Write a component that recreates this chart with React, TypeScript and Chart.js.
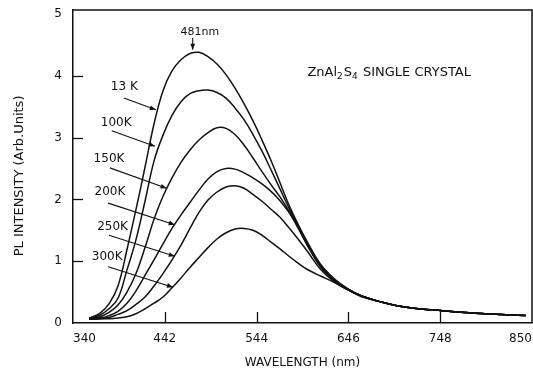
import React, { useEffect, useRef } from "react";
import { Chart, registerables } from "chart.js";

Chart.register(...registerables);

const FONT = "DejaVu Sans";
const INK = "#111";

// Wavelength grid (nm)
const wavelengths = [358, 370, 380, 390, 400, 410, 420, 430, 440, 450, 460, 470, 480, 490, 500, 510, 520, 530, 540, 550, 560, 570, 580, 590, 600, 615, 630, 645, 660, 680, 700, 725, 750, 780, 810, 843];

// PL intensity (arb. units) for each temperature
const pl13K = [0.08, 0.16, 0.31, 0.6, 1.19, 1.84, 2.52, 3.22, 3.76, 4.08, 4.26, 4.36, 4.38, 4.31, 4.19, 4.02, 3.8, 3.55, 3.27, 2.96, 2.63, 2.27, 1.91, 1.6, 1.32, 0.95, 0.72, 0.56, 0.44, 0.35, 0.28, 0.23, 0.2, 0.165, 0.14, 0.12];
const pl100K = [0.07, 0.13, 0.23, 0.4, 0.86, 1.35, 1.97, 2.62, 3.04, 3.36, 3.58, 3.71, 3.76, 3.77, 3.73, 3.64, 3.48, 3.29, 3.05, 2.78, 2.48, 2.17, 1.86, 1.58, 1.29, 0.94, 0.71, 0.55, 0.44, 0.35, 0.28, 0.23, 0.2, 0.165, 0.14, 0.12];
const pl150K = [0.07, 0.1, 0.17, 0.29, 0.5, 0.8, 1.22, 1.68, 2.05, 2.35, 2.6, 2.8, 2.96, 3.08, 3.16, 3.15, 3.05, 2.88, 2.67, 2.45, 2.24, 2.04, 1.81, 1.55, 1.27, 0.92, 0.7, 0.55, 0.44, 0.35, 0.28, 0.23, 0.2, 0.165, 0.14, 0.12];
const pl200K = [0.06, 0.08, 0.12, 0.19, 0.32, 0.52, 0.77, 1.02, 1.28, 1.53, 1.75, 1.95, 2.15, 2.33, 2.45, 2.5, 2.49, 2.43, 2.35, 2.25, 2.13, 1.98, 1.79, 1.54, 1.27, 0.91, 0.69, 0.55, 0.44, 0.35, 0.28, 0.23, 0.2, 0.165, 0.14, 0.12];
const pl250K = [0.06, 0.07, 0.09, 0.14, 0.2, 0.3, 0.42, 0.6, 0.8, 1.02, 1.26, 1.53, 1.79, 1.99, 2.12, 2.2, 2.22, 2.18, 2.08, 1.97, 1.84, 1.71, 1.54, 1.36, 1.17, 0.87, 0.67, 0.54, 0.44, 0.35, 0.28, 0.23, 0.2, 0.165, 0.14, 0.12];
const pl300K = [0.06, 0.07, 0.07, 0.08, 0.1, 0.15, 0.23, 0.32, 0.42, 0.57, 0.73, 0.9, 1.06, 1.22, 1.36, 1.46, 1.52, 1.53, 1.5, 1.42, 1.31, 1.2, 1.08, 0.97, 0.87, 0.76, 0.66, 0.54, 0.43, 0.35, 0.28, 0.23, 0.2, 0.165, 0.14, 0.12];

const temperatures = ["13 K", "100K", "150K", "200K", "250K", "300K"];
const seriesValues = [pl13K, pl100K, pl150K, pl200K, pl250K, pl300K];

// Axis ticks
const xTickValues = [340, 442, 544, 646, 748, 850];
const yTickValues = [0, 1, 2, 3, 4, 5];

// Annotation anchors in data units (wavelength, intensity)
const labelWl = [397, 388, 380, 381, 384, 378];
const labelPl = [3.82, 3.24, 2.65, 2.12, 1.55, 1.07];
const arrowFromWl = [396.5, 383, 381, 379, 380, 379];
const arrowFromPl = [3.64, 3.11, 2.51, 1.94, 1.42, 0.91];
const arrowToWl = [432, 431, 444, 453, 453, 451];
const arrowToPl = [3.45, 2.86, 2.18, 1.59, 1.08, 0.58];
const peakLabel = "481nm";
const peakLabelAt = [481, 4.71];
const peakArrow = [473, 4.61, 473, 4.42];
const titleAt = [600.5, 4.08];

function arrow(ctx: CanvasRenderingContext2D, x1: number, y1: number, x2: number, y2: number) {
  ctx.beginPath();
  ctx.moveTo(x1, y1);
  ctx.lineTo(x2, y2);
  ctx.stroke();
  const a = Math.atan2(y2 - y1, x2 - x1);
  const L = 6, W = 2.4;
  ctx.beginPath();
  ctx.moveTo(x2, y2);
  ctx.lineTo(x2 - L * Math.cos(a) + W * Math.sin(a), y2 - L * Math.sin(a) - W * Math.cos(a));
  ctx.lineTo(x2 - L * Math.cos(a) - W * Math.sin(a), y2 - L * Math.sin(a) + W * Math.cos(a));
  ctx.closePath();
  ctx.fill();
}

const annotations = {
  id: "annotations",
  afterDraw(chart: any) {
    const { ctx, chartArea } = chart;
    const x = chart.scales.x;
    const y = chart.scales.y;
    ctx.save();
    ctx.strokeStyle = INK;
    ctx.fillStyle = INK;
    ctx.lineWidth = 1.5;
    // top and right frame
    ctx.beginPath();
    ctx.moveTo(chartArea.left, chartArea.top);
    ctx.lineTo(chartArea.right, chartArea.top);
    ctx.lineTo(chartArea.right, chartArea.bottom);
    ctx.stroke();
    // inward tick marks
    ctx.lineWidth = 1.3;
    yTickValues.slice(1, -1).forEach((v) => {
      const py = Math.round(y.getPixelForValue(v)) + 0.5;
      ctx.beginPath();
      ctx.moveTo(chartArea.left, py);
      ctx.lineTo(chartArea.left + 10, py);
      ctx.stroke();
    });
    xTickValues.slice(1, -1).forEach((w) => {
      const px = Math.round(x.getPixelForValue(w)) + 0.5;
      ctx.beginPath();
      ctx.moveTo(px, chartArea.bottom);
      ctx.lineTo(px, chartArea.bottom - 11);
      ctx.stroke();
    });

    // y axis title
    ctx.save();
    ctx.translate(chartArea.left - 53, y.getPixelForValue(2.38));
    ctx.rotate(-Math.PI / 2);
    ctx.font = `13px "${FONT}"`;
    ctx.textAlign = "center";
    ctx.textBaseline = "middle";
    ctx.fillText("PL INTENSITY (Arb.Units)", 0, 0);
    ctx.restore();

    // temperature labels and arrows
    ctx.lineWidth = 1.1;
    ctx.font = `12px "${FONT}"`;
    ctx.textAlign = "center";
    ctx.textBaseline = "middle";
    temperatures.forEach((t, i) => {
      ctx.fillText(t, x.getPixelForValue(labelWl[i]), y.getPixelForValue(labelPl[i]));
      arrow(ctx,
        x.getPixelForValue(arrowFromWl[i]), y.getPixelForValue(arrowFromPl[i]),
        x.getPixelForValue(arrowToWl[i]), y.getPixelForValue(arrowToPl[i]));
    });

    // peak label
    ctx.font = `11px "${FONT}"`;
    ctx.fillText(peakLabel, x.getPixelForValue(peakLabelAt[0]), y.getPixelForValue(peakLabelAt[1]));
    arrow(ctx,
      x.getPixelForValue(peakArrow[0]), y.getPixelForValue(peakArrow[1]),
      x.getPixelForValue(peakArrow[2]), y.getPixelForValue(peakArrow[3]));

    // sample title with subscripts
    let tx = x.getPixelForValue(titleAt[0]);
    const base = y.getPixelForValue(titleAt[1]) + 0.365 * 13;
    ctx.textAlign = "left";
    ctx.textBaseline = "alphabetic";
    const parts: [string, boolean][] = [["ZnAl", false], ["2", true], ["S", false], ["4", true], [" SINGLE CRYSTAL", false]];
    parts.forEach(([s, sub]) => {
      ctx.font = sub ? `9px "${FONT}"` : `13px "${FONT}"`;
      ctx.fillText(s, tx, sub ? base + 3.5 : base);
      tx += ctx.measureText(s).width + (sub ? 1 : 0);
    });
    ctx.restore();
  },
};

export default function App() {
  const ref = useRef<HTMLCanvasElement>(null);
  useEffect(() => {
    const canvas = ref.current;
    if (!canvas) return;
    const tickFont = { size: 12, family: FONT };
    const chart = new Chart(canvas, {
      type: "line",
      data: {
        datasets: seriesValues.map((vals, i) => ({
          label: temperatures[i],
          data: wavelengths.map((w, j) => ({ x: w, y: vals[j] })),
          borderColor: INK,
          borderWidth: 1.5,
          pointRadius: 0,
          tension: 0.4,
          fill: false,
        })),
      },
      options: {
        responsive: false,
        animation: false,
        devicePixelRatio: 1,
        layout: { padding: { top: 10, right: 1, left: 0, bottom: 0 } },
        plugins: { legend: { display: false }, tooltip: { enabled: false } },
        scales: {
          x: {
            type: "linear",
            min: xTickValues[0],
            max: xTickValues[xTickValues.length - 1],
            afterBuildTicks: (s: any) => { s.ticks = xTickValues.map((v) => ({ value: v })); },
            ticks: { align: "inner", padding: 9, color: INK, font: tickFont, maxRotation: 0, autoSkip: false },
            grid: { display: false, drawTicks: false },
            border: { display: true, color: INK, width: 1.5 },
            title: { display: true, text: "WAVELENGTH (nm)", color: INK, font: { size: 12, family: FONT }, padding: { top: 0, bottom: 2 } },
            afterFit: (s: any) => { s.height = 49; s.paddingLeft = 0; s.paddingRight = 0; },
          },
          y: {
            type: "linear",
            min: 0,
            max: 5.065,
            afterBuildTicks: (s: any) => { s.ticks = yTickValues.map((v) => ({ value: v })); },
            ticks: { padding: 11, color: INK, font: tickFont },
            grid: { display: false, drawTicks: false },
            border: { display: true, color: INK, width: 1.5 },
            afterFit: (s: any) => { s.width = 73; s.paddingTop = 0; s.paddingBottom = 0; },
          },
        },
      },
      plugins: [annotations],
    } as any);
    return () => chart.destroy();
  }, []);
  return (
    <div style={{ position: "absolute", left: 0, top: 0, width: 533, height: 372, background: "#fff" }}>
      <canvas ref={ref} width={533} height={372} style={{ display: "block" }} />
    </div>
  );
}
